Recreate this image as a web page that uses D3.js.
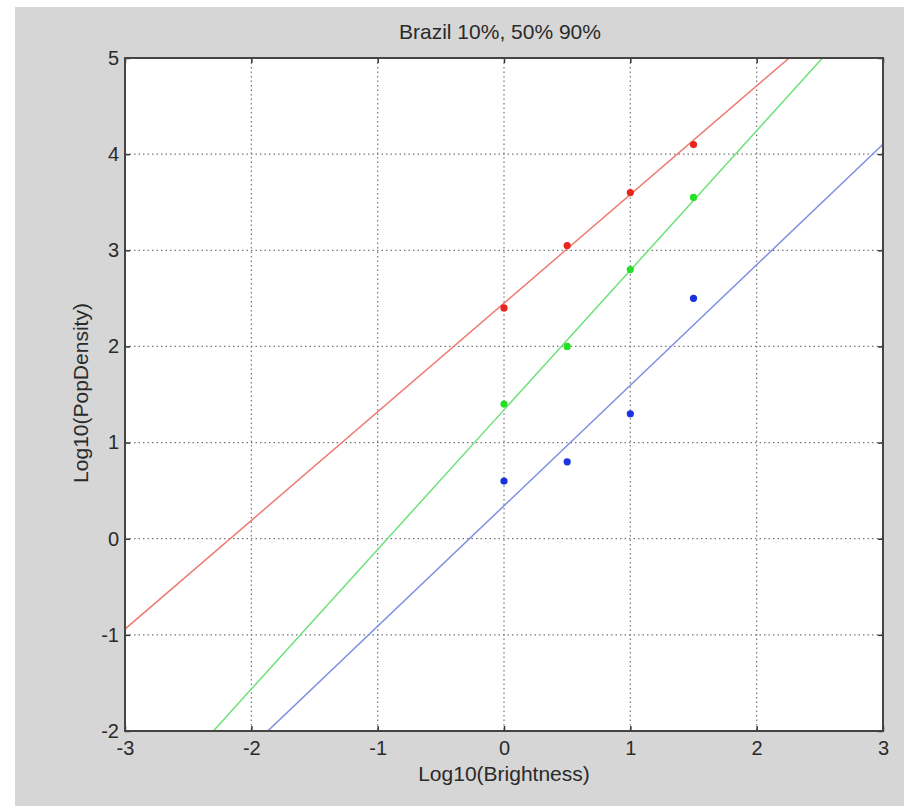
<!DOCTYPE html>
<html>
<head>
<meta charset="utf-8">
<script src="https://cdn.jsdelivr.net/npm/d3@7"></script>
<style>
  body { margin: 0; background: #fff; }
  svg text { font-family: "Liberation Sans", Arial, sans-serif; fill: #2a2a2a; }
</style>
</head>
<body>
<svg id="chart" width="904" height="806"></svg>
<script>
// Observed points (log10 brightness vs log10 pop density)
const brightness = [0, 0.5, 1, 1.5];
const red10 = [2.4, 3.05, 3.6, 4.1];
const green50 = [1.4, 2.0, 2.8, 3.55];
const blue90 = [0.6, 0.8, 1.3, 2.5];

// Fitted lines: [intercept, slope]
const redFit = [2.45, 1.13];
const greenFit = [1.34, 1.452];
const blueFit = [0.343, 1.253];

const xTicks = [-3, -2, -1, 0, 1, 2, 3];
const yTicks = [-2, -1, 0, 1, 2, 3, 4, 5];

const series = [
  { pts: red10, fit: redFit, dot: '#e8261e', line: '#ee7b73' },
  { pts: green50, fit: greenFit, dot: '#22e022', line: '#6fe07a' },
  { pts: blue90, fit: blueFit, dot: '#1a32e0', line: '#7f8fe0' }
];

const W = 904, H = 806;
const M = { left: 125, right: 883, top: 58, bottom: 731 };

const svg = d3.select('#chart');

// figure background
svg.append('rect')
  .attr('x', 15).attr('y', 7)
  .attr('width', W - 15).attr('height', H - 7)
  .attr('fill', '#d6d6d6');

const x = d3.scaleLinear().domain([-3, 3]).range([M.left, M.right]);
const y = d3.scaleLinear().domain([-2, 5]).range([M.bottom, M.top]);

// plot area
svg.append('rect')
  .attr('x', M.left).attr('y', M.top)
  .attr('width', M.right - M.left).attr('height', M.bottom - M.top)
  .attr('fill', '#fff');

svg.append('clipPath').attr('id', 'clip')
  .append('rect')
  .attr('x', M.left).attr('y', M.top)
  .attr('width', M.right - M.left).attr('height', M.bottom - M.top);

// dotted grid
const grid = svg.append('g');
grid.selectAll('.gx')
  .data(xTicks.slice(1, -1))
  .enter().append('line')
  .attr('x1', d => x(d)).attr('x2', d => x(d))
  .attr('y1', M.top).attr('y2', M.bottom)
  .attr('stroke', '#777').attr('stroke-width', 1.2)
  .attr('stroke-dasharray', '1.5,3');
grid.selectAll('.gy')
  .data(yTicks.slice(1, -1))
  .enter().append('line')
  .attr('x1', M.left).attr('x2', M.right)
  .attr('y1', d => y(d)).attr('y2', d => y(d))
  .attr('stroke', '#777').attr('stroke-width', 1.2)
  .attr('stroke-dasharray', '1.5,3');

// fitted lines
const plot = svg.append('g').attr('clip-path', 'url(#clip)');
const lineGen = d3.line().x(d => x(d[0])).y(d => y(d[1]));
series.forEach(s => {
  const ends = x.domain().map(v => [v, s.fit[0] + s.fit[1] * v]);
  plot.append('path')
    .datum(ends)
    .attr('d', lineGen)
    .attr('fill', 'none')
    .attr('stroke', s.line)
    .attr('stroke-width', 1.5);
});

// data points
series.forEach(s => {
  plot.selectAll(null)
    .data(s.pts)
    .enter().append('circle')
    .attr('cx', (d, i) => x(brightness[i]))
    .attr('cy', d => y(d))
    .attr('r', 3.6)
    .attr('fill', s.dot);
});

// plain hyphen for negatives, like the original
const fmt = d => String(d);

// axes with inward ticks on all four sides
const tick = 5;
svg.append('g')
  .attr('transform', `translate(0,${M.bottom})`)
  .call(d3.axisBottom(x).tickValues(xTicks).tickSize(-tick).tickPadding(10).tickFormat(fmt))
  .call(g => g.select('.domain').remove());
svg.append('g')
  .attr('transform', `translate(0,${M.top})`)
  .call(d3.axisTop(x).tickValues(xTicks).tickSize(-tick).tickFormat(''))
  .call(g => g.select('.domain').remove());
svg.append('g')
  .attr('transform', `translate(${M.left},0)`)
  .call(d3.axisLeft(y).tickValues(yTicks).tickSize(-tick).tickPadding(6).tickFormat(fmt))
  .call(g => g.select('.domain').remove());
svg.append('g')
  .attr('transform', `translate(${M.right},0)`)
  .call(d3.axisRight(y).tickValues(yTicks).tickSize(-tick).tickFormat(''))
  .call(g => g.select('.domain').remove());

svg.selectAll('.tick line').attr('stroke', '#333').attr('stroke-width', 1.5);
svg.selectAll('.tick text')
  .attr('font-size', 20)
  .style('font-family', '"Liberation Sans", Arial, sans-serif')
  .attr('fill', '#2a2a2a');

// frame
svg.append('rect')
  .attr('x', M.left).attr('y', M.top)
  .attr('width', M.right - M.left).attr('height', M.bottom - M.top)
  .attr('fill', 'none')
  .attr('stroke', '#444').attr('stroke-width', 2);

// title and labels
svg.append('text')
  .attr('x', 500).attr('y', 39)
  .attr('text-anchor', 'middle')
  .attr('font-size', 21)
  .text('Brazil 10%, 50% 90%');

svg.append('text')
  .attr('x', 504).attr('y', 781)
  .attr('text-anchor', 'middle')
  .attr('font-size', 21)
  .text('Log10(Brightness)');

svg.append('text')
  .attr('transform', 'translate(88,393) rotate(-90)')
  .attr('text-anchor', 'middle')
  .attr('font-size', 21)
  .text('Log10(PopDensity)');
</script>
</body>
</html>
